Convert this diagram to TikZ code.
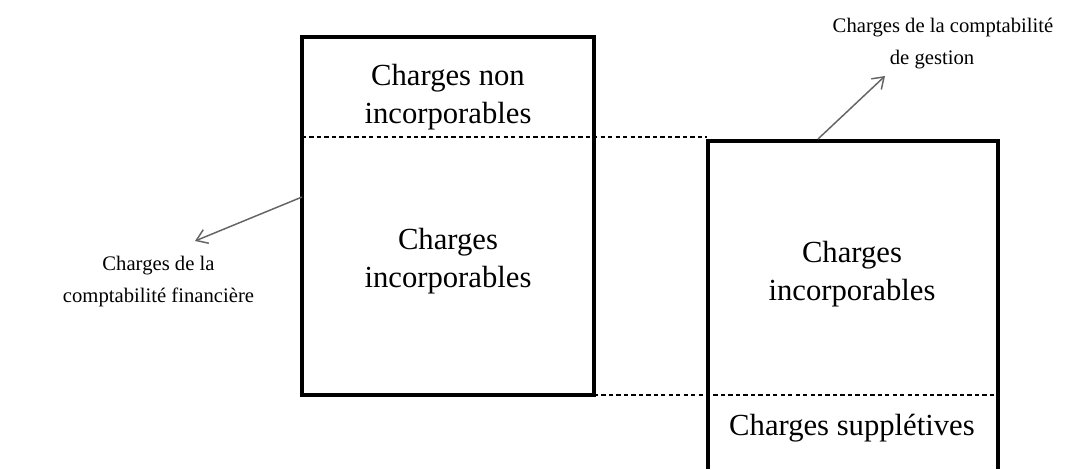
\documentclass[tikz,border=0pt]{standalone}
\usepackage{fontspec}
\setmainfont{Liberation Serif}
\usetikzlibrary{arrows.meta}
\begin{document}
\begin{tikzpicture}[x=0.75pt,y=-0.75pt,
  box/.style={line width=2.3pt,line join=miter},
  sep/.style={line width=0.8pt,dash pattern=on 3.2pt off 2.4pt},
  arr/.style={draw={rgb,255:red,100;green,100;blue,100},line width=1.1pt,
    -{Straight Barb[length=8pt,width=11pt,line width=1.1pt]}},
  big/.style={font=\fontsize{23}{29}\selectfont,align=center,inner sep=0pt},
  small/.style={font=\fontsize{15.5}{24}\selectfont,align=center,inner sep=0pt}]
\useasboundingbox (0,0) rectangle (1067,469);
% left box
\draw[box] (302,37) rectangle (594,395);
\coordinate (tl) at (302,137);
\coordinate (tr) at (707,137);
\draw[sep] (tl) -- (tr);
% right box (open at bottom)
\draw[box] (708,469) -- (708,141) -- (998,141) -- (998,469);
\coordinate (bl) at (594,395);
\coordinate (br) at (998,395);
\draw[sep] (bl) -- (br);
% texts
\node[big] (t1) at (448,97) {Charges non\\incorporables};
\node[big] (t2) at (448,261) {Charges\\incorporables};
\node[big] (t3) at (852,274) {Charges\\incorporables};
\node[big,anchor=base] (t4) at (852,435) {Charges supplétives};
\node[small] (lg) at (943,44) {Charges de la comptabilité\\de gestion\hspace*{16.5pt}};
\node[small] (lf) at (158.5,282) {Charges de la\\comptabilité financière};
% arrows
\coordinate (a1s) at (302,197);
\coordinate (a1e) at (195,241);
\draw[arr] (a1s) -- (a1e);
\coordinate (a2s) at (818,139);
\coordinate (a2e) at (885,76);
\draw[arr] (a2s) -- (a2e);
\end{tikzpicture}
\end{document}
